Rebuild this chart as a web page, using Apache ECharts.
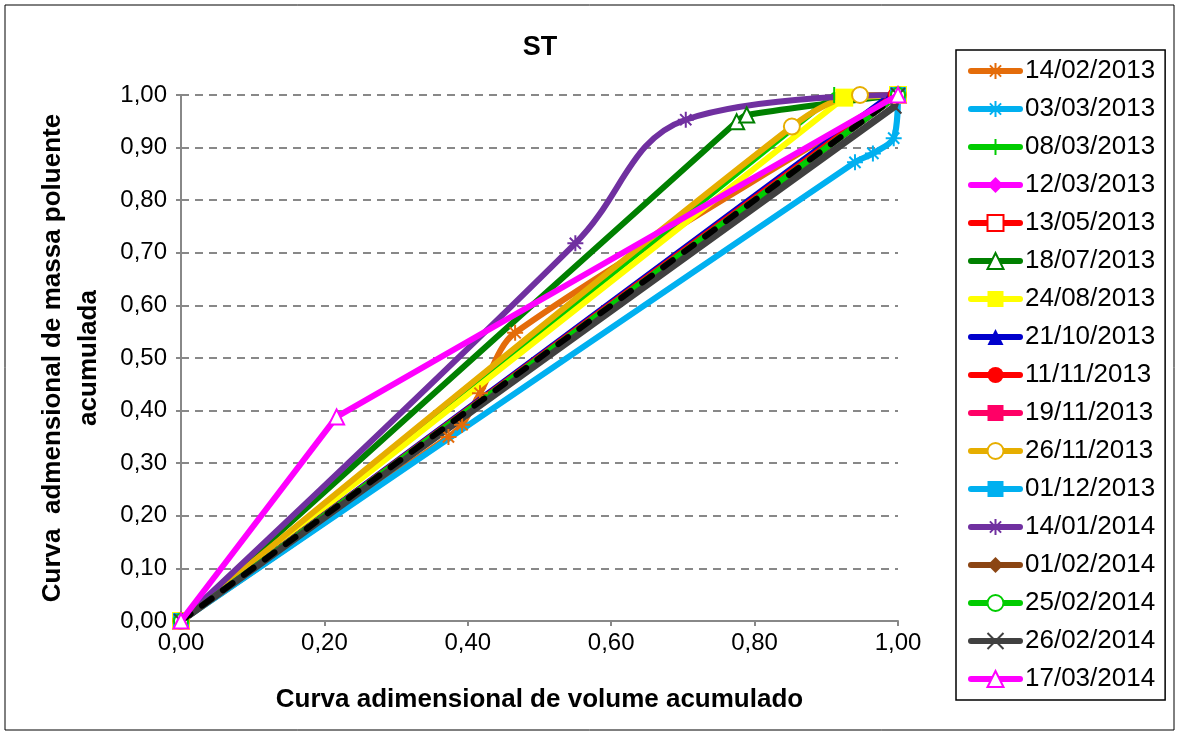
<!DOCTYPE html>
<html>
<head>
<meta charset="utf-8">
<script src="https://cdn.jsdelivr.net/npm/echarts@6/dist/echarts.min.js"></script>
<style>
  html, body { margin: 0; padding: 0; background: #fff; }
  #chart { width: 1179px; height: 735px; }
</style>
</head>
<body>
<div id="chart"></div>
<script>
// legend labels, in the order of the legend box
const dates = [
    '14/02/2013', '03/03/2013', '08/03/2013', '12/03/2013', '13/05/2013',
    '18/07/2013', '24/08/2013', '21/10/2013', '11/11/2013', '19/11/2013',
    '26/11/2013', '01/12/2013', '14/01/2014', '01/02/2014', '25/02/2014',
    '26/02/2014', '17/03/2014'
];

// [volume, mass] points
const s140213 = [[0, 0], [0.373, 0.350], [0.392, 0.373], [0.417, 0.433], [0.466, 0.548], [1, 1]];
const s030313 = [[0, 0], [0.940, 0.872], [0.965, 0.889], [0.994, 0.918], [1, 1]];
const s080313 = [[0, 0], [0.911, 1.0], [1, 1]];
const s120313 = [[0, 0], [1, 1]];
const s130513 = [[0, 0], [1, 1]];
const s180713 = [[0, 0], [0.775, 0.949], [0.789, 0.962], [1, 1]];
const s240813 = [[0, 0], [0.925, 0.995], [1, 1]];
const s211013 = [[0, 0], [0.99, 1.0], [1, 1]];
const s111113 = [[0, 0], [0.995, 1.0], [1, 1]];
const s191113 = [[0, 0], [1, 1]];
const s261113 = [[0, 0], [0.852, 0.940], [0.947, 1.0], [1, 1]];
const s011213 = [[0, 0], [1, 1]];
const s140114 = [[0, 0], [0.550, 0.718], [0.704, 0.953], [1, 1]];
const s010214 = [[0, 0], [1, 1]];
const s250214 = [[0, 0], [1, 1]];
const s260214 = [[0, 0], [0.995, 0.978], [1, 1]];
const s170314 = [[0, 0], [0.217, 0.388], [1, 1]];
const refLine = [[0, 0], [1, 1]];

// marker shapes excel uses that echarts lacks (stroked, not filled)
const ASTER = 'path://M10,0L10,20M0,10L20,10M3,3L17,17M3,17L17,3';
const BAR = 'path://M10,0L10,20M0,10L0,10M20,10L20,10';
const CROSS = 'path://M0,0L20,20M0,20L20,0';

const fmt = v => v.toFixed(2).replace('.', ',');

function mk(name, data, color, symbol, size, opts) {
    opts = opts || {};
    return {
        name: name,
        type: 'line',
        data: data,
        smooth: opts.smooth || false,
        clip: false,
        symbol: symbol,
        symbolSize: size,
        showAllSymbol: true,
        lineStyle: { color: color, width: opts.width || 6, cap: 'round', join: 'round' },
        itemStyle: {
            color: color,
            borderColor: color,
            borderWidth: opts.bw || 0
        },
        z: opts.z || 2
    };
}

const series = [
    mk(dates[0], s140213, '#E46C0A', ASTER, 16, { smooth: 0.3, bw: 2 }),
    mk(dates[1], s030313, '#00B0F0', ASTER, 16, { smooth: 0.3, bw: 2 }),
    mk(dates[2], s080313, '#00CC00', BAR, 16, { bw: 2 }),
    mk(dates[3], s120313, '#FF00FF', 'diamond', 16),
    mk(dates[4], s130513, '#FF0000', 'emptyRect', 14),
    mk(dates[5], s180713, '#008000', 'emptyTriangle', 15, { smooth: 0.3 }),
    mk(dates[6], s240813, '#FFFF00', 'rect', 18),
    mk(dates[7], s211013, '#0000CC', 'triangle', 14),
    mk(dates[8], s111113, '#FF0000', 'circle', 14),
    mk(dates[9], s191113, '#FF0066', 'rect', 14),
    mk(dates[10], s261113, '#E6AE00', 'emptyCircle', 16, { smooth: 0.3 }),
    mk(dates[11], s011213, '#00B0F0', 'rect', 16),
    mk(dates[12], s140114, '#7030A0', ASTER, 16, { smooth: 0.4, bw: 2 }),
    mk(dates[13], s010214, '#8B4513', 'diamond', 14),
    mk(dates[14], s250214, '#00CC00', 'emptyCircle', 14),
    mk(dates[15], s260214, '#404040', CROSS, 14, { bw: 2, width: 7 }),
    {
        name: 'ref',
        type: 'line',
        data: refLine,
        symbol: 'none',
        clip: false,
        lineStyle: { color: '#000', width: 6, type: [12, 14], cap: 'round' },
        z: 3
    },
    mk(dates[16], s170314, '#FF00FF', 'emptyTriangle', 15, { z: 4 })
];

const chart = echarts.init(document.getElementById('chart'), null, { renderer: 'canvas' });

chart.setOption({
    animation: false,
    backgroundColor: '#fff',
    textStyle: { fontFamily: 'Liberation Sans, Arial, sans-serif' },
    title: {
        text: 'ST',
        left: 535,
        top: 29,
        textAlign: 'center',
        textStyle: { fontSize: 27, fontWeight: 'bold', color: '#000' }
    },
    grid: { left: 181, right: 281, top: 95, bottom: 114 },
    legend: {
        orient: 'vertical',
        left: 956,
        top: 50,
        data: dates,
        padding: [8, 10, 8, 12],
        borderColor: '#000',
        borderWidth: 1.5,
        itemWidth: 49,
        itemHeight: 20,
        itemGap: 12,
        lineStyle: { width: 6, cap: 'round' },
        textStyle: { fontSize: 26, color: '#000' }
    },
    xAxis: {
        type: 'value',
        min: 0,
        max: 1,
        interval: 0.2,
        name: 'Curva adimensional de volume acumulado',
        nameLocation: 'middle',
        nameGap: 66,
        nameTextStyle: { fontSize: 26, fontWeight: 'bold', color: '#000' },
        axisLine: { lineStyle: { color: '#888', width: 2 } },
        axisTick: { show: true, length: 5, lineStyle: { color: '#888', width: 2 } },
        axisLabel: { fontSize: 24, color: '#000', margin: 10, formatter: fmt },
        splitLine: { show: false }
    },
    yAxis: {
        type: 'value',
        min: 0,
        max: 1,
        interval: 0.1,
        name: 'Curva  admensional de massa poluente\nacumulada',
        nameLocation: 'middle',
        nameGap: 74,
        nameTextStyle: { fontSize: 26, fontWeight: 'bold', color: '#000', lineHeight: 36 },
        axisLine: { show: true, lineStyle: { color: '#888', width: 2 } },
        axisTick: { show: true, length: 5, lineStyle: { color: '#888', width: 2 } },
        axisLabel: { fontSize: 24, color: '#000', margin: 14, formatter: fmt },
        splitLine: { show: true, lineStyle: { color: '#888', width: 2, type: [8, 6] } }
    },
    graphic: [{
        type: 'rect',
        shape: { x: 5, y: 5, width: 1169, height: 725 },
        style: { fill: 'none', stroke: '#000', lineWidth: 1 },
        silent: true,
        z: -1
    }],
    series: series
});
</script>
</body>
</html>
